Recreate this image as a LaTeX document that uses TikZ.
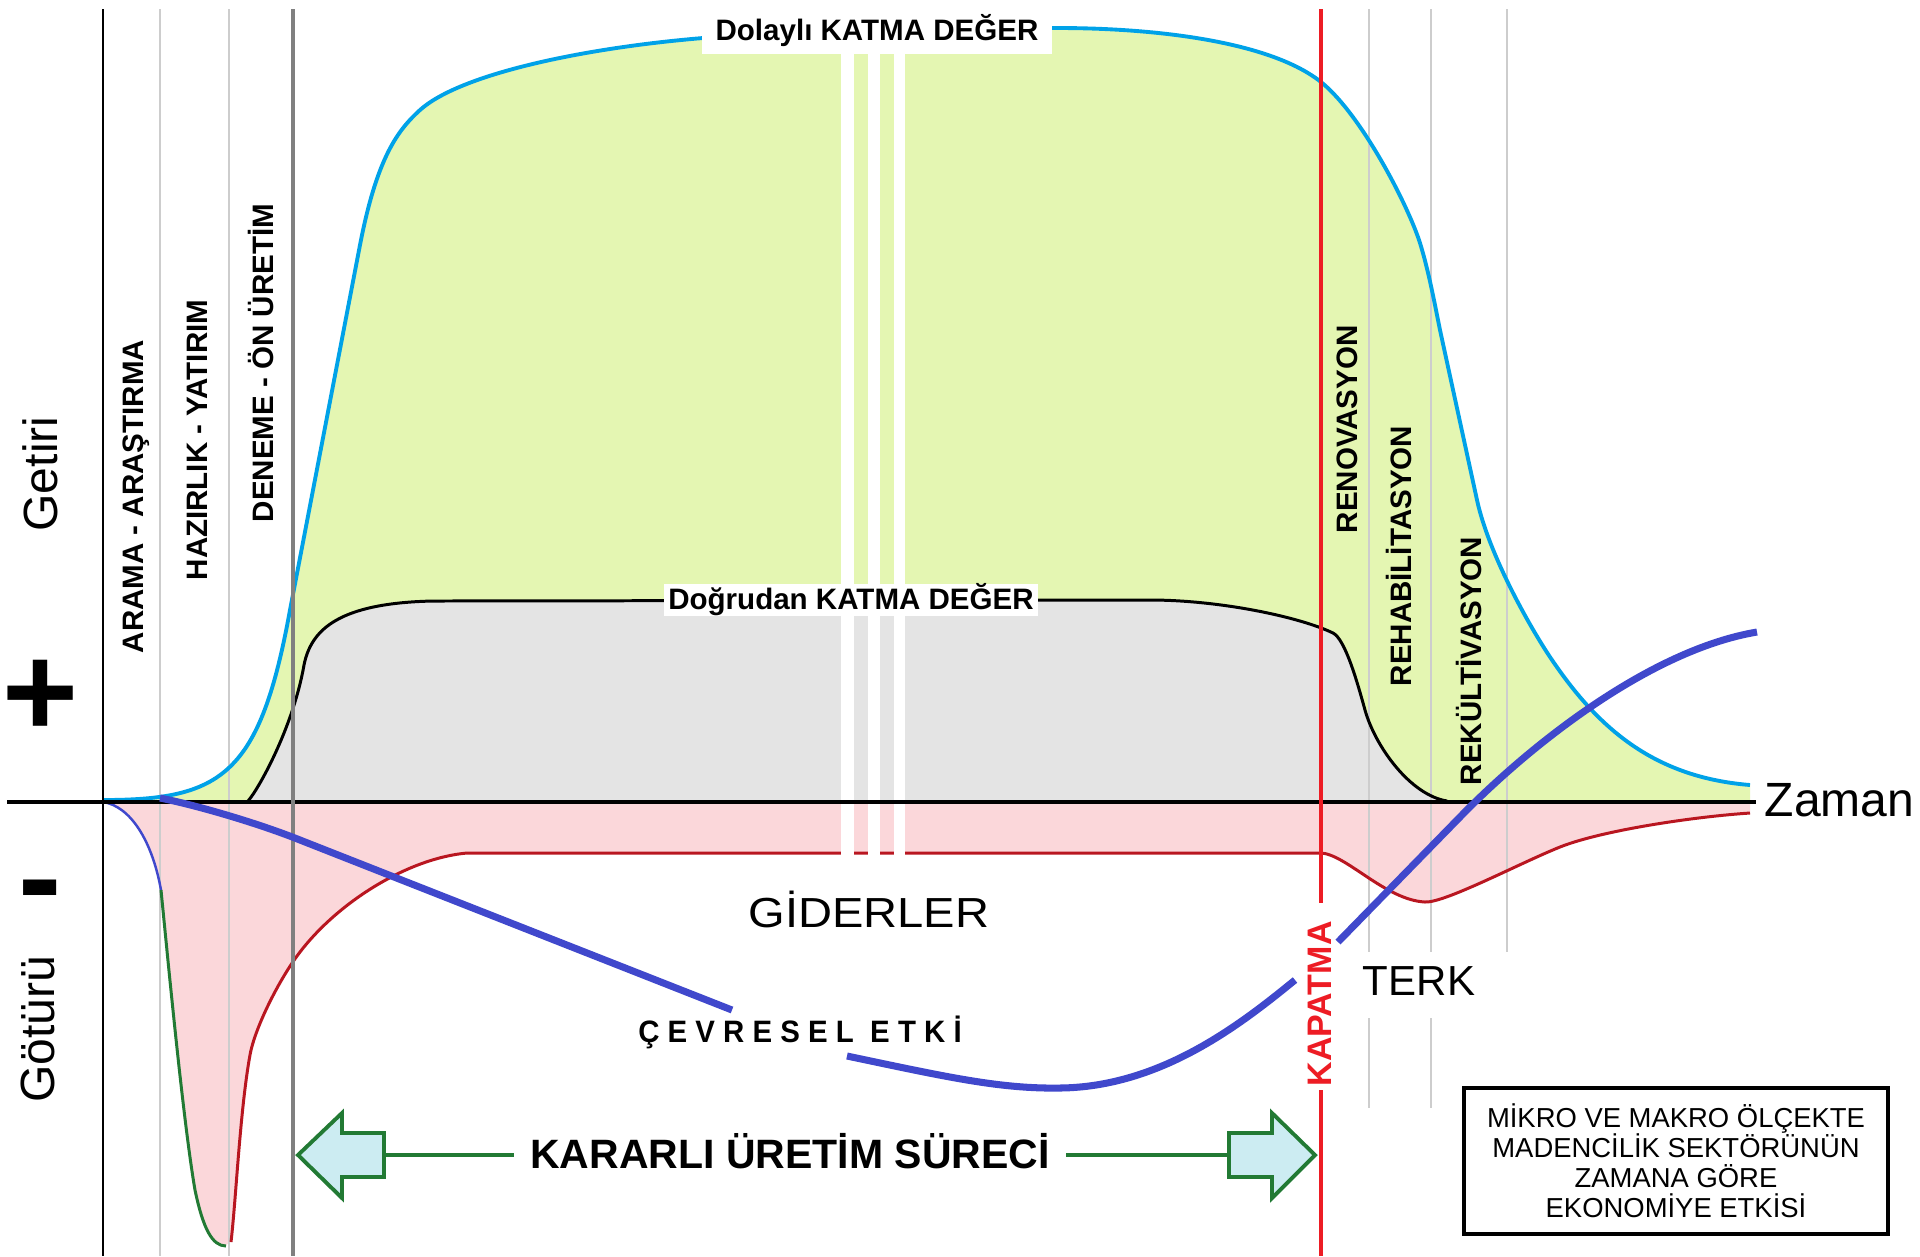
\documentclass[tikz,border=0pt]{standalone}
\usepackage{fontspec}
\setmainfont{Liberation Sans}
\definecolor{cBlue}{RGB}{0,162,232}
\definecolor{cGreenFill}{RGB}{228,246,178}
\definecolor{cGrayFill}{RGB}{228,228,228}
\definecolor{cPink}{RGB}{251,215,218}
\definecolor{cDarkRed}{RGB}{185,22,32}
\definecolor{cRed}{RGB}{237,28,36}
\definecolor{cViolet}{RGB}{64,72,204}
\definecolor{cDGreen}{RGB}{34,122,52}
\definecolor{cArrow}{RGB}{204,236,242}
\definecolor{cLight}{RGB}{205,205,205}
\definecolor{cMid}{RGB}{128,128,128}
\begin{document}
\begin{tikzpicture}[x=0.01cm,y=-0.01cm,
  phase/.style={rotate=90,anchor=mid west,inner sep=0pt,font=\fontsize{8.4}{10}\selectfont\bfseries},
  vlight/.style={draw=cLight,line width=0.5pt},
  katma/.style={fill=white,inner ysep=0pt,font=\fontsize{8.4}{10}\selectfont\bfseries},
  bigsign/.style={anchor=base,inner sep=0pt,font=\fontsize{37}{40}\selectfont\bfseries},
  sidelabel/.style={rotate=90,inner sep=0pt,font=\fontsize{13.66}{16}\selectfont},
  blockarrow/.style={draw=cDGreen,fill=cArrow,line width=1.1pt,line join=miter},
  arrowline/.style={draw=cDGreen,line width=1.1pt},
  envline/.style={draw=cViolet,line width=2pt}]
\useasboundingbox (0,0) rectangle (1920,1256);
\fill[white] (0,0) rectangle (1920,1256);
\def\bluecurve{(103,800) .. controls (222,800) and (260,775) .. (290,610) -- (360,245) .. controls (377,157) and (398,130) .. (420,110) .. controls (460,74) and (583,48) .. (703,38) .. controls (800,32) and (950,28) .. (1058,28) .. controls (1158,28) and (1271,42) .. (1321,82) .. controls (1361,114) and (1408,205) .. (1420,243) .. controls (1428,269) and (1433,295) .. (1440,330) -- (1477,500) .. controls (1489,555) and (1530,627) .. (1550,657) .. controls (1595,724) and (1650,777) .. (1750,785)}
\def\blackcurve{(248,801) .. controls (258,790) and (293,728) .. (304,665) .. controls (311,630) and (338,603) .. (433,601) -- (1150,600) .. controls (1220,600) and (1300,617) .. (1333,633) .. controls (1345,639) and (1357,681) .. (1365,710) .. controls (1375,746) and (1410,795) .. (1447,801)}
\def\redcurve{(231,1242) .. controls (236,1200) and (240,1110) .. (250,1055) .. controls (255,1027) and (280,978) .. (300,952) .. controls (340,900) and (410,858) .. (467,853) -- (1320,853) .. controls (1345,853) and (1385,900) .. (1425,902) .. controls (1445,903) and (1520,863) .. (1560,847) .. controls (1600,831) and (1690,817) .. (1750,813)}
% fills
\fill[cGreenFill] \bluecurve -- (1750,802) -- (103,802) -- cycle;
\fill[cGrayFill] \blackcurve -- cycle;
\fill[cPink] (103,802) .. controls (130,806) and (152,840) .. (161,890) .. controls (168,960) and (183,1120) .. (195,1190) .. controls (203,1228) and (212,1246) .. (224,1246) -- \redcurve -- (1750,802) -- cycle;
% light vertical lines
\coordinate (g1t) at (160,9); \coordinate (g1b) at (160,1256);
\coordinate (g2t) at (229,9); \coordinate (g2b) at (229,1256);
\draw[vlight] (g1t) -- (g1b);
\draw[vlight] (g2t) -- (g2b);
\draw[vlight] (1369,9) -- (1369,952) (1369,1018) -- (1369,1108);
\draw[vlight] (1431,9) -- (1431,952) (1431,1018) -- (1431,1108);
\draw[vlight] (1507,9) -- (1507,952);
% curves
\draw[cBlue,line width=1.1pt] \bluecurve;
\draw[black,line width=0.85pt] \blackcurve;
\draw[cViolet,line width=0.7pt] (103,802) .. controls (130,806) and (152,840) .. (161,890);
\draw[cDGreen,line width=0.85pt] (161,890) .. controls (168,960) and (183,1120) .. (195,1190) .. controls (203,1228) and (212,1246) .. (226,1246);
\draw[cDarkRed,line width=0.85pt] \redcurve;
% white break strips
\fill[white] (841,54) rectangle (854,857);
\fill[white] (868,54) rectangle (880,857);
\fill[white] (894,54) rectangle (905,857);
% axis
\coordinate (ax0) at (7,802); \coordinate (ax1) at (1756,802);
\draw[black,line width=1.14pt] (ax0) -- (ax1);
% vertical lines
\draw[cMid,line width=1.1pt] (293,9) -- (293,1256);
\draw[black,line width=0.55pt] (103,9) -- (103,1256);
\coordinate (rt) at (1321,9); \coordinate (rb) at (1321,1256);
\draw[cRed,line width=1.1pt] (rt) -- (1321,903) (1321,1090) -- (rb);
% environmental impact curve
\draw[envline] (160,798) .. controls (200,806) and (260,824) .. (300,840) -- (732,1010);
\draw[envline] (847,1056) .. controls (947,1077) and (1000,1089) .. (1060,1088) .. controls (1160,1087) and (1240,1025) .. (1295,980);
\draw[envline] (1338,942) -- (1460,817) .. controls (1530,745) and (1650,650) .. (1757,632);
% labels
\node[katma,inner xsep=4pt,inner ysep=2pt] (dolayli) at (877,31) {Dolaylı KATMA DEĞER};
\node[katma,inner xsep=1.2pt] (dogrudan) at (851,600) {Doğrudan KATMA DEĞER};
\node[phase] (p1) at (134,654) {ARAMA - ARAŞTIRMA};
\node[phase] (p2) at (198,581) {HAZIRLIK - YATIRIM};
\node[phase] (p3) at (264,523) {DENEME - ÖN ÜRETİM};
\node[phase] (p4) at (1348,534) {RENOVASYON};
\node[phase] (p5) at (1402,687) {REHABİLİTASYON};
\node[phase] (p6) at (1472,786) {REKÜLTİVASYON};
\node[sidelabel] (getiri) at (40,474) {Getiri};
\node[sidelabel] (goturu) at (38,1029) {Götürü};
\node[bigsign] (plus) at (40,736) {+};
\node[bigsign] (minus) at (40,921) {-};
\node[anchor=west,inner sep=0pt,font=\fontsize{13.66}{16}\selectfont] (zaman) at (1764,800) {Zaman};
\node[anchor=base,inner sep=0pt,font=\fontsize{11.95}{14}\selectfont] (giderler) at (869,927) {\scalebox{1.12}[1]{GİDERLER}};
\node[anchor=base,inner sep=0pt,font=\fontsize{11.95}{14}\selectfont] (terk) at (1419,995) {TERK};
\node[anchor=center,inner sep=0pt,font=\fontsize{8.8}{10}\selectfont\bfseries] (cevre) at (800,1032) {\scalebox{0.95}[1]{Ç E V R E S E L\ \ E T K İ}};
\node[rotate=90,anchor=mid west,inner sep=0pt,text=cRed,font=\fontsize{9.67}{11}\selectfont\bfseries] (kapatma) at (1322,1087) {KAPATMA};
% steady production arrows
\node[anchor=base,inner xsep=4.5pt,inner ysep=0pt,font=\fontsize{11.66}{14}\selectfont\bfseries] (karar) at (790,1168) {KARARLI ÜRETİM SÜRECİ};
\coordinate (lat) at (384,1155);
\coordinate (rat) at (1229,1155);
\draw[blockarrow] (298,1155) -- (342,1113) -- (342,1133) -- (lat |- 0,1133) -- (lat |- 0,1177) -- (342,1177) -- (342,1198) -- cycle;
\draw[blockarrow] (1315,1155) -- (1272,1113) -- (1272,1133) -- (rat |- 0,1133) -- (rat |- 0,1177) -- (1272,1177) -- (1272,1198) -- cycle;
\draw[arrowline] (lat) -- (lat -| karar.west);
\draw[arrowline] (lat -| karar.east) -- (rat);
% title box
\node[draw,line width=1.1pt,minimum width=4.23cm,minimum height=1.46cm,align=center,inner sep=0pt,font=\fontsize{7.8}{8.55}\selectfont] (title) at (1676,1161) {MİKRO VE MAKRO ÖLÇEKTE\\MADENCİLİK SEKTÖRÜNÜN\\ZAMANA GÖRE\\EKONOMİYE ETKİSİ};
\end{tikzpicture}
\end{document}
